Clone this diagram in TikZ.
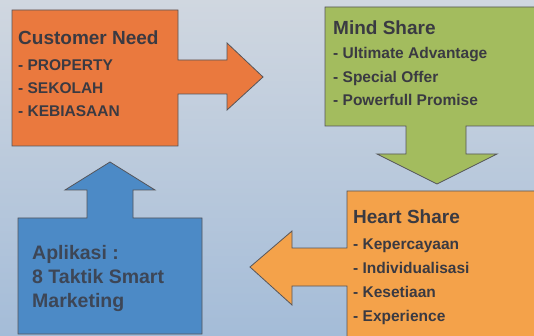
\documentclass[tikz,border=0pt]{standalone}
\usepackage{fontspec}
\setmainfont{Liberation Sans}
\definecolor{bgtop}{RGB}{208,215,224}
\definecolor{bgbot}{RGB}{164,188,216}
\definecolor{needc}{RGB}{234,121,62}
\definecolor{mindc}{RGB}{163,188,94}
\definecolor{appc}{RGB}{76,138,198}
\definecolor{heartc}{RGB}{244,162,74}
\definecolor{txtc}{RGB}{58,58,66}
\definecolor{edgec}{RGB}{85,85,90}
\tikzset{
  shapebox/.style={draw=edgec, line width=0.8pt, line join=miter},
  ttl/.style={anchor=base west, inner sep=0pt, text=txtc, font=\bfseries\fontsize{19}{21}\selectfont},
  itm/.style={anchor=base west, inner sep=0pt, text=txtc, font=\bfseries\fontsize{15.5}{17}\selectfont},
  apl/.style={anchor=base west, inner sep=0pt, text=txtc!85!appc, font=\bfseries\fontsize{19.5}{21}\selectfont},
}
\begin{document}
\begin{tikzpicture}[x=1pt,y=-1pt]
\useasboundingbox (0,0) rectangle (534,336);
\clip (0,0) rectangle (534,336);
\shade[top color=bgtop, bottom color=bgbot] (0,0) rectangle (534,336);
% Customer Need
\path[shapebox, fill=needc] (12,10) -- (178,10) -- (178,60) -- (227,60) -- (227,43) -- (263,77) -- (227,110) -- (227,94) -- (178,94) -- (178,146) -- (12,146) -- cycle;
% Mind Share
\path[shapebox, fill=mindc] (325,7) -- (540,7) -- (540,126) -- (466,126) -- (466,154) -- (497,154) -- (437,184) -- (377,154) -- (406,154) -- (406,126) -- (325,126) -- cycle;
% Heart Share
\path[shapebox, fill=heartc] (347,191) -- (540,191) -- (540,340) -- (347,340) -- (347,286) -- (292,286) -- (292,305) -- (250,267) -- (292,231) -- (292,248) -- (347,248) -- cycle;
% Aplikasi
\path[shapebox, fill=appc] (18,218) -- (87,218) -- (87,190) -- (65,190) -- (110,162) -- (155,190) -- (133,190) -- (133,218) -- (202,218) -- (202,334) -- (18,334) -- cycle;

\node[ttl] (n1) at (18,45) {Customer Need};
\node[itm] (n2) at (18,71) {- PROPERTY};
\node[itm] (n3) at (18,94) {- SEKOLAH};
\node[itm] (n4) at (18,117) {- KEBIASAAN};

\node[ttl] (m1) at (333,35) {Mind Share};
\node[itm] (m2) at (333,59) {- Ultimate Advantage};
\node[itm] (m3) at (333,83) {- Special Offer};
\node[itm] (m4) at (333,106) {- Powerfull Promise};

\node[ttl] (h1) at (353,224) {Heart Share};
\node[itm] (h2) at (353,249) {- Kepercayaan};
\node[itm] (h3) at (353,273) {- Individualisasi};
\node[itm] (h4) at (353,297) {- Kesetiaan};
\node[itm] (h5) at (353,321) {- Experience};

\node[apl] (a1) at (32,259) {Aplikasi :};
\node[apl] (a2) at (32,283) {8 Taktik Smart};
\node[apl] (a3) at (32,307) {Marketing};
\end{tikzpicture}
\end{document}
